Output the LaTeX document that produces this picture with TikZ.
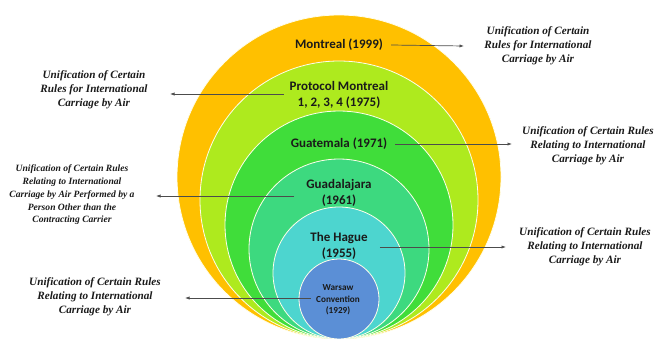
\documentclass[tikz,border=0pt]{standalone}
\usepackage{fontspec}
\newfontfamily\timesf{Liberation Serif}
\newfontfamily\calib{Carlito}
\usetikzlibrary{arrows.meta}
\definecolor{cOrange}{HTML}{FFC000}
\definecolor{cLime}{HTML}{AEEA1E}
\definecolor{cGreen}{HTML}{40DD3A}
\definecolor{cSea}{HTML}{3DD97F}
\definecolor{cTeal}{HTML}{4DD5CF}
\definecolor{cBlue}{HTML}{5B8FD6}
\definecolor{cText}{HTML}{1A1A1A}
\tikzset{
  ring/.style={draw=white!92!yellow, line width=0.8pt},
  lbl/.style={font=\calib\bfseries\fontsize{13}{15.5}\selectfont, text=cText, align=center, inner sep=0pt},
  note/.style={font=\timesf\bfseries\itshape\fontsize{11.2}{14.2}\selectfont, text=cText, align=center, inner sep=0pt},
  smallnote/.style={font=\timesf\bfseries\itshape\fontsize{9.6}{12.8}\selectfont, text=cText, align=center, inner sep=0pt},
  arr/.style={draw=black!70, line width=0.7pt, -{Latex[length=4.5pt,width=3.2pt]}}
}
\begin{document}
\begin{tikzpicture}[x=1pt,y=-1pt]
\useasboundingbox (0,0) rectangle (671,338);
\begin{scope}
\clip (0,0) rectangle (671,338);
\fill[cOrange, ring] (339,177) circle[radius=162pt];
\fill[cLime, ring] (339,200) circle[radius=139pt];
\fill[cGreen, ring] (339,225) circle[radius=114pt];
\fill[cSea, ring] (339,249) circle[radius=90pt];
\fill[cTeal, ring] (339,273) circle[radius=66pt];
\fill[cBlue, ring] (339,299) circle[radius=40pt];
\end{scope}

% circle labels
\node[lbl] (mont) at (339,45) {Montreal (1999)};
\node[lbl] (prot) at (339,95) {Protocol Montreal\\1, 2, 3, 4 (1975)};
\node[lbl] (guat) at (339,144) {Guatemala (1971)};
\node[lbl] (guad) at (339,193) {Guadalajara\\(1961)};
\node[lbl] (hague) at (339,246) {The Hague\\(1955)};
\node[font=\calib\bfseries\fontsize{9.2}{11.5}\selectfont, text=cText, align=center, inner sep=0pt] (warsaw) at (338,300) {Warsaw\\Convention\\(1929)};

% notes
\node[note] (n1) at (538,46) {Unification of Certain\\Rules for International\\Carriage by Air};
\node[note] (n2) at (94,90) {Unification of Certain\\Rules for International\\Carriage by Air};
\node[note] (n3) at (588,146) {Unification of Certain Rules\\Relating to International\\Carriage by Air};
\node[smallnote] (n4) at (72,195) {Unification of Certain Rules\\Relating to International\\Carriage by Air Performed by a\\Person Other than the\\Contracting Carrier};
\node[note] (n5) at (585,247) {Unification of Certain Rules\\Relating to International\\Carriage by Air};
\node[note] (n6) at (95,297) {Unification of Certain Rules\\Relating to International\\Carriage by Air};

% connectors
\coordinate (t1) at (464,46);
\coordinate (t2) at (170,94);
\coordinate (t3) at (512,144);
\coordinate (t4) at (156,196);
\coordinate (t5) at (506,247);
\coordinate (t6) at (185,298);
\draw[arr] ([xshift=8pt]mont.east) -- (t1);
\draw[arr] ([xshift=-6pt]prot.west |- t2) -- (t2);
\draw[arr] ([xshift=8pt]guat.east) -- (t3);
\draw[arr] ([xshift=-12pt]guad.west |- t4) -- (t4);
\draw[arr] ([xshift=12pt]hague.east |- t5) -- (t5);
\draw[arr] ([xshift=-5pt]warsaw.west |- t6) -- (t6);
\end{tikzpicture}
\end{document}
